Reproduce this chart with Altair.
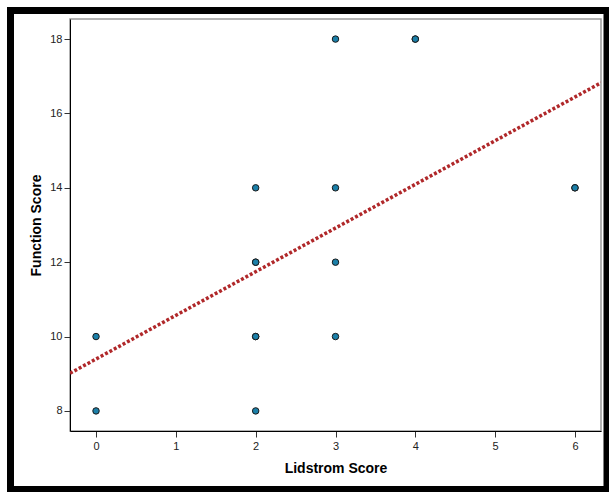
import altair as alt
import pandas as pd

lidstrom = [0, 0, 2, 2, 2, 2, 2, 2, 3, 3, 3, 3, 4, 4, 6, 6]
function = [8, 10, 8, 10, 10, 12, 12, 14, 10, 12, 14, 18, 18, 18, 14, 14]

x_ticks = [0, 1, 2, 3, 4, 5, 6]
y_ticks = [8, 10, 12, 14, 16, 18]
x_domain = [-0.326, 6.326]
y_domain = [7.46, 18.54]

df = pd.DataFrame({"Lidstrom Score": lidstrom, "Function Score": function})

W, H = 531, 412

xs = alt.Scale(domain=x_domain, nice=False, zero=False)
ys = alt.Scale(domain=y_domain, nice=False, zero=False)

x_axis = alt.Axis(values=x_ticks, format="d", grid=False, tickSize=6, labelPadding=3,
                  titlePadding=10, domainColor="black", tickColor="#333",
                  labelColor="#222", labelFontSize=11, titleFontSize=14,
                  titleFontWeight="bold", titleColor="black")
y_axis = alt.Axis(values=y_ticks, format="d", grid=False, tickSize=6, labelPadding=2,
                  titlePadding=6, domainColor="black", tickColor="#333",
                  labelColor="#222", labelFontSize=11, titleFontSize=14,
                  titleFontWeight="bold", titleColor="black")

base = alt.Chart(df)

points = base.mark_point(filled=True, shape="circle", size=42, fill="#1b7fa8",
                         stroke="#1a1a1a", strokeWidth=1, opacity=1).encode(
    x=alt.X("Lidstrom Score:Q", scale=xs, axis=x_axis),
    y=alt.Y("Function Score:Q", scale=ys, axis=y_axis),
)

fit = base.transform_regression(
    "Lidstrom Score", "Function Score", extent=x_domain
).mark_line(color="#b0282a", strokeWidth=3.5, strokeDash=[3, 2], clip=True).encode(
    x=alt.X("Lidstrom Score:Q", scale=xs),
    y=alt.Y("Function Score:Q", scale=ys),
)

frame = alt.Chart(pd.DataFrame({"a": [0]})).mark_rect(
    fill=None, fillOpacity=0, stroke="black", strokeWidth=7, clip=False
).encode(
    x=alt.value(-59.5), x2=alt.value(537), y=alt.value(-8.5), y2=alt.value(470.5)
)

chart = alt.layer(fit, points, frame).properties(
    width=W, height=H,
    autosize=alt.AutoSizeParams(type="none"),
    padding={"left": 70, "top": 19, "right": 8, "bottom": 61},
    background="white",
).configure_view(
    stroke="#999999", strokeWidth=1.5
).configure_axis(
    labelFont="Liberation Sans", titleFont="Liberation Sans"
)

chart.save("out.html", embed_options={"renderer": "svg", "actions": False})
